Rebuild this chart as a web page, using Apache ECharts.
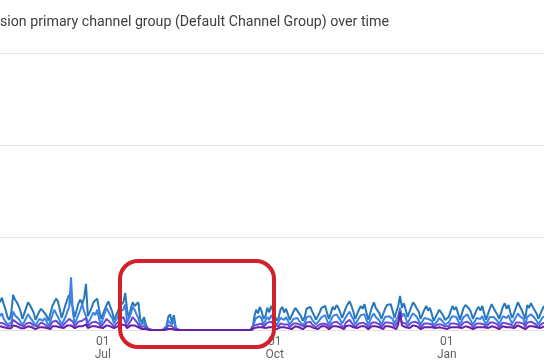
<!DOCTYPE html>
<html><head><meta charset="utf-8">
<script src="https://cdn.jsdelivr.net/npm/echarts@6/dist/echarts.min.js"></script>
<style>html,body{margin:0;padding:0;background:#fff}#c{width:544px;height:363px}</style>
</head><body><div id="c"></div>
<script>
const titleText = 'Session primary channel group (Default Channel Group) over time';
const startDate = '2023-05-07';
const tickDates = ['2023-07-01', '2023-10-01', '2024-01-01'];
const tickLabels = ['01\nJul', '01\nOct', '01\nJan'];
const seriesNames = ['Organic Search', 'Direct', 'Referral', 'Unassigned'];
const seriesColors = ['#2877b8', '#3b84e6', '#6a4bd6', '#6a1fa6'];

const organicSearch = [
30,35,28,22,14,11,18, 38,33,30,26,20,12,10, 24,30,27,25,19,11,13, 20,23,22,18,15,10,12,
26,30,34,31,22,13,11, 27,33,38,30,24,14,12, 29,33,28,35,50,15,13, 24,30,28,34,22,12,14,
22,27,31,25,20,11,13, 20,26,24,30,40,22,12, 24,30,26,28,30,12,8, 14,6,2,
0,0,0,0,0,0,0,0,0, 4,14,17,8,16,3,
0,0,0,0,0,0,0,0,0,0, 0,0,0,0,0,0,0,0,0,0, 0,0,0,0,0,0,0,0,0,0, 0,0,0,0,0,0,0,0,0,0, 0,
14,22,18,25,20,12,15, 24,19,26,21,16,10,13, 22,25,19,23,17,11,12, 20,24,22,18,15,10,14,
23,21,25,20,16,11,12, 19,24,22,26,18,12,13, 25,22,27,24,19,13,12, 24,28,31,26,20,12,14,
22,26,23,28,19,11,13, 25,30,24,22,18,12,10, 23,27,25,28,21,13,12, 26,37,24,29,22,14,13,
25,30,27,23,20,12,11, 22,26,21,24,17,10,12, 18,22,20,16,11,10,14, 20,26,22,25,18,11,13,
24,27,29,23,19,12,14, 22,25,21,26,18,11,13, 23,28,24,20,17,12,12, 25,29,23,27,19,13,14,
24,30,26,22,20,12,27, 24,29,25,23,18,12,13, 22,26
];
const direct = [
15,18,12,10,6,5,8, 20,16,14,12,9,5,6, 13,17,15,11,8,5,7, 12,14,10,13,9,4,6,
16,22,18,14,10,6,5, 14,20,25,57,18,7,6, 17,22,28,20,15,7,6, 15,19,16,22,12,6,8,
18,24,20,16,13,7,6, 14,20,18,22,28,8,7, 18,25,22,17,13,5,4, 8,4,1,
0,0,0,0,0,0,0,0,0, 2,10,12,6,11,2,
0,0,0,0,0,0,0,0,0,0, 0,0,0,0,0,0,0,0,0,0, 0,0,0,0,0,0,0,0,0,0, 0,0,0,0,0,0,0,0,0,0, 0,
8,13,11,15,12,6,8, 14,11,16,12,9,5,7, 13,15,11,14,10,6,6, 12,14,13,10,9,5,8,
14,12,15,11,9,6,6, 11,14,13,16,10,6,7, 15,13,17,14,11,7,6, 14,17,20,15,12,6,8,
13,16,14,17,11,6,7, 15,18,14,13,10,6,5, 14,16,15,17,12,7,6, 15,24,14,18,13,7,7,
15,18,16,14,12,6,6, 13,15,12,14,10,5,6, 10,13,11,9,6,5,8, 12,15,13,14,10,6,7,
14,16,17,13,11,6,8, 13,15,12,15,10,6,7, 14,16,14,12,10,6,6, 15,17,13,16,11,7,8,
14,18,15,13,12,6,14, 14,17,15,13,10,6,7, 13,15
];
const referral = [
8,10,7,6,4,3,5, 11,9,8,7,5,3,4, 7,9,8,6,5,3,4, 6,8,7,6,4,2,3,
9,11,10,8,6,3,3, 8,10,12,14,9,4,3, 9,11,10,12,13,4,3, 8,10,9,11,7,3,4,
9,12,10,8,7,4,3, 8,11,10,14,12,4,4, 10,14,12,9,7,3,2, 4,2,1,
0,0,0,0,0,0,0,0,0, 1,5,6,4,5,1,
0,0,0,0,0,0,0,0,0,0, 0,0,0,0,0,0,0,0,0,0, 0,0,0,0,0,0,0,0,0,0, 0,0,0,0,0,0,0,0,0,0, 0,
5,7,6,8,7,3,4, 8,6,9,7,5,3,4, 7,8,6,8,6,3,3, 7,8,7,6,5,3,4,
8,7,9,6,5,3,3, 6,8,7,9,6,3,4, 8,7,9,8,6,4,3, 8,9,11,8,7,3,4,
7,9,8,9,6,3,4, 8,10,8,7,6,3,3, 8,9,8,10,7,4,3, 9,14,8,10,7,4,4,
8,10,9,8,7,3,3, 7,8,7,8,6,3,3, 6,7,6,5,4,3,4, 7,8,7,8,6,3,4,
8,9,9,7,6,3,4, 7,8,7,9,6,3,4, 8,9,8,7,6,3,3, 8,9,7,9,6,4,4,
8,10,8,7,7,3,8, 8,9,8,7,6,3,4, 7,8
];
const unassigned = [
4,5,3,3,2,1,2, 5,4,4,3,2,1,2, 3,4,4,3,2,1,2, 3,4,3,3,2,1,1,
4,5,4,4,3,1,2, 4,5,6,5,4,2,1, 4,5,4,5,6,2,1, 4,5,4,5,3,1,2,
4,5,5,4,3,2,1, 4,5,6,8,5,2,2, 5,6,5,4,3,1,1, 2,1,0,
0,0,0,0,0,0,0,0,0, 0,1,2,1,1,0,
0,0,0,0,0,0,0,0,0,0, 0,0,0,0,0,0,0,0,0,0, 0,0,0,0,0,0,0,0,0,0, 0,0,0,0,0,0,0,0,0,0, 0,
2,3,3,4,3,1,2, 3,3,4,3,2,1,2, 3,4,3,3,2,1,1, 3,4,3,3,2,1,2,
4,3,4,3,2,1,1, 3,4,3,4,3,1,2, 4,3,4,4,3,2,1, 4,4,5,4,3,1,2,
3,4,4,4,3,1,2, 4,5,4,3,3,1,1, 4,4,4,5,3,2,1, 6,20,5,4,3,2,2,
4,5,4,4,3,1,1, 3,4,3,4,3,1,2, 3,3,3,2,2,1,2, 3,4,3,4,3,1,2,
4,4,4,3,3,1,2, 3,4,3,4,3,1,2, 4,4,4,3,3,1,1, 4,4,3,4,3,2,2,
4,5,4,3,3,1,3, 4,4,4,3,3,1,2, 3,4
];
const seriesData = [organicSearch, direct, referral, unassigned];

// daily categories
const categories = [];
{
  const d0 = new Date(startDate + 'T00:00:00Z');
  for (let i = 0; i < organicSearch.length; i++) {
    const d = new Date(d0.getTime() + i * 86400000);
    categories.push(d.toISOString().slice(0, 10));
  }
}

const titleFont = '14.2px Roboto';
const cv = document.createElement('canvas').getContext('2d');
cv.font = titleFont;
const titleX = -cv.measureText('Ses').width;

const chart = echarts.init(document.getElementById('c'), null, {renderer: 'canvas'});
chart.setOption({
  animation: false,
  backgroundColor: '#ffffff',
  grid: {left: 0, right: 0, top: 53, bottom: 33},
  xAxis: {
    type: 'category',
    data: categories,
    boundaryGap: false,
    axisLine: {show: false},
    axisTick: {show: false},
    splitLine: {show: false},
    axisLabel: {
      interval: (idx, val) => tickDates.indexOf(val) >= 0,
      formatter: (val) => tickLabels[tickDates.indexOf(val)] || '',
      color: '#5f6368',
      fontFamily: 'Roboto',
      fontSize: 12,
      lineHeight: 13,
      margin: 5
    }
  },
  yAxis: {
    type: 'value',
    min: 0, max: 300, interval: 100,
    axisLabel: {show: false},
    axisLine: {show: false},
    axisTick: {show: false},
    splitLine: {lineStyle: {color: '#e3e3e3', width: 1}}
  },
  series: seriesNames.map((n, i) => ({
    name: n,
    type: 'line',
    data: seriesData[i],
    symbol: 'none',
    lineStyle: {width: 2, color: seriesColors[i]},
    itemStyle: {color: seriesColors[i]},
    z: 2 + i
  })),
  graphic: [
    {
      type: 'text', x: titleX, y: 22,
      style: {text: titleText, font: titleFont, fill: '#3c4043', textVerticalAlign: 'middle'}
    },
    {
      type: 'rect', z: 100,
      shape: {x: 120, y: 261, width: 154, height: 86, r: 18},
      style: {fill: 'none', stroke: '#d3212b', lineWidth: 4}
    }
  ]
});
</script></body></html>
